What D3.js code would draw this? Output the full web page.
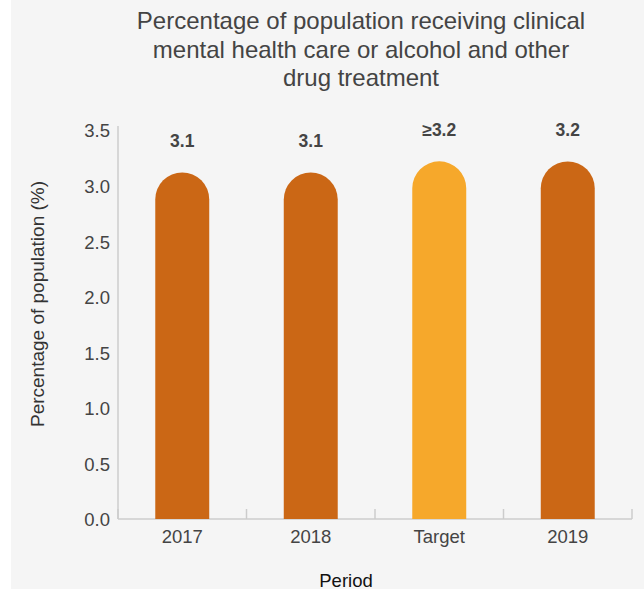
<!DOCTYPE html>
<html><head><meta charset="utf-8">
<script src="https://cdn.jsdelivr.net/npm/d3@7"></script>
<style>
html,body{margin:0;padding:0;background:#fff;}
svg{display:block;font-family:"Liberation Sans",Arial,sans-serif;}
</style></head>
<body><svg id="chart" width="644" height="589"></svg>
<script>
const categories = ["2017", "2018", "Target", "2019"];
const values = [3.1, 3.1, 3.2, 3.2];
const valueLabels = ["3.1", "3.1", "≥3.2", "3.2"];
const barColors = ["#cb6715", "#cb6715", "#f6a82b", "#cb6715"];
const yTicks = [0, 0.5, 1.0, 1.5, 2.0, 2.5, 3.0, 3.5];
const titleLines = ["Percentage of population receiving clinical", "mental health care or alcohol and other", "drug treatment"];

const svg = d3.select("#chart");
svg.append("rect").attr("x", 11).attr("y", 0).attr("width", 633).attr("height", 589).attr("fill", "#f5f5f5");

const m = {left: 118, right: 632, top: 130, bottom: 519};
const x = d3.scaleBand().domain(categories).range([m.left, m.right]).padding(0);
const y = d3.scaleLinear().domain([0, 3.5]).range([m.bottom, m.top]);
const bw = x.bandwidth() * 0.42;

// title
svg.append("g").selectAll("text").data(titleLines).join("text")
  .attr("x", 361).attr("y", (d, i) => 29 + i * 28.5)
  .attr("text-anchor", "middle").attr("font-size", 24).attr("fill", "#444").text(d => d);

// axes lines
svg.append("line").attr("x1", m.left).attr("x2", m.left).attr("y1", y(3.5) - 4).attr("y2", m.bottom)
  .attr("stroke", "#ccc").attr("stroke-width", 1.5);
svg.append("line").attr("x1", m.left).attr("x2", m.right).attr("y1", m.bottom).attr("y2", m.bottom)
  .attr("stroke", "#ccc").attr("stroke-width", 1.5);
const bounds = categories.map(c => x(c)).concat([x(categories[categories.length - 1]) + x.bandwidth()]);
svg.append("g").selectAll("line").data(bounds).join("line")
  .attr("x1", d => d).attr("x2", d => d).attr("y1", m.bottom - 10).attr("y2", m.bottom)
  .attr("stroke", "#ccc").attr("stroke-width", 1.5);

// y tick labels
svg.append("g").selectAll("text").data(yTicks).join("text")
  .attr("x", 110).attr("y", d => y(d) + 1).attr("dy", "0.35em")
  .attr("text-anchor", "end").attr("font-size", 18.5).attr("fill", "#444")
  .text(d => d3.format(".1f")(d));

// x tick labels
svg.append("g").selectAll("text").data(categories).join("text")
  .attr("x", d => x(d) + x.bandwidth() / 2).attr("y", 543)
  .attr("text-anchor", "middle").attr("font-size", 18.5).attr("fill", "#444").text(d => d);

// bars with rounded top
const r = bw / 2;
svg.append("g").selectAll("path").data(values).join("path")
  .attr("fill", (d, i) => barColors[i])
  .attr("d", (d, i) => {
    const cx = x(categories[i]) + x.bandwidth() / 2;
    const x0 = cx - bw / 2, x1 = cx + bw / 2;
    const top = y(d) - 2, base = y(0);
    return `M${x0},${base}L${x0},${top + r}A${r},${r} 0 0 1 ${x1},${top + r}L${x1},${base}Z`;
  });

// value labels
svg.append("g").selectAll("text").data(values).join("text")
  .attr("x", (d, i) => x(categories[i]) + x.bandwidth() / 2)
  .attr("y", d => y(d) - 27)
  .attr("text-anchor", "middle").attr("font-size", 17.5).attr("font-weight", "bold").attr("fill", "#444")
  .text((d, i) => valueLabels[i]);

// axis titles
svg.append("text").attr("transform", "translate(44,304) rotate(-90)")
  .attr("text-anchor", "middle").attr("font-size", 19).attr("fill", "#333")
  .text("Percentage of population (%)");
svg.append("text").attr("x", 346).attr("y", 587)
  .attr("text-anchor", "middle").attr("font-size", 18.5).attr("fill", "#111").text("Period");
</script></body></html>
